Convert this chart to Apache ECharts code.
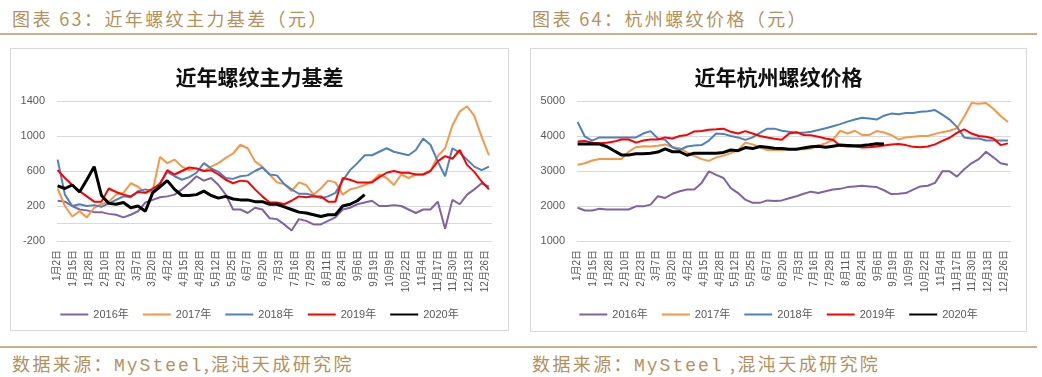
<!DOCTYPE html>
<html>
<head>
<meta charset="utf-8">
<script src="https://cdn.jsdelivr.net/npm/echarts@6/dist/echarts.min.js"></script>
<style>
body { margin: 0; background: #fff; width: 1042px; height: 377px; overflow: hidden; position: relative; font-family: "Noto Sans CJK SC"; }
.cap { position: absolute; font-size: 18px; line-height: 20px; color: #b4915c; letter-spacing: 2.4px; white-space: nowrap; }
.mono { font-family: "Liberation Mono"; letter-spacing: 2px; }
.rule { position: absolute; height: 2px; background: #cbb08a; }
.box { position: absolute; border: 1px solid #d9d9d9; box-sizing: border-box; }
</style>
</head>
<body>
<div class="cap" style="left:12px;top:8px">图表 63：近年螺纹主力基差（元）</div>
<div class="cap" style="left:532px;top:8px">图表 64：杭州螺纹价格（元）</div>
<div class="rule" style="left:0;top:33px;width:520px"></div>
<div class="rule" style="left:520px;top:33px;width:517px"></div>

<div id="basis-chart" class="box" style="left:10px;top:48px;width:499px;height:283px"></div>
<div id="price-chart" class="box" style="left:530px;top:48px;width:497px;height:284px"></div>

<div class="rule" style="left:0;top:346px;width:520px"></div>
<div class="rule" style="left:520px;top:346px;width:517px"></div>
<div class="cap" style="left:12px;top:353px">数据来源：<span class="mono">MySteel</span>,混沌天成研究院</div>
<div class="cap" style="left:532px;top:353px">数据来源：<span class="mono">MySteel</span> ,混沌天成研究院</div>

<script>
// one value every STEP trading days, starting at 1月2日
var STEP = 6;
var years = ['2016年', '2017年', '2018年', '2019年', '2020年'];
var colors = ['#7f63a4', '#f79646', '#4f81bd', '#ff0000', '#000000'];

var basisTicks = [-200, 200, 600, 1000, 1400];
var priceTicks = [1000, 2000, 3000, 4000, 5000];

// 螺纹主力基差
var basis2016 = [260, 250, 200, 160, 150, 130, 130, 110, 100, 70, 100, 140, 240, 270, 300,
    310, 330, 390, 460, 540, 490, 520, 440, 330, 160, 160, 120, 180, 160, 60,
    50, -10, -80, 50, 30, -10, -10, 30, 70, 160, 180, 220, 240, 260, 200,
    200, 210, 200, 160, 120, 160, 160, 250, -60, 270, 220, 330, 390, 460, 420];
var basis2017 = [400, 200, 80, 140, 70, 180, 220, 250, 330, 350, 460, 420, 350, 370, 760,
    690, 730, 650, 610, 630, 600, 650, 690, 750, 800, 900, 860, 710, 650, 560,
    470, 450, 370, 470, 440, 330, 400, 490, 470, 330, 390, 410, 440, 480, 560,
    520, 440, 560, 520, 560, 560, 600, 770, 860, 1120, 1280, 1340, 1230, 990, 780];
var basis2018 = [730, 330, 200, 220, 200, 210, 190, 230, 270, 310, 300, 370, 390, 370, 460,
    590, 540, 500, 530, 580, 690, 630, 590, 520, 510, 540, 550, 600, 640, 560,
    550, 450, 390, 340, 340, 320, 290, 310, 350, 490, 610, 690, 780, 780, 820,
    860, 820, 800, 780, 840, 970, 900, 710, 540, 860, 810, 730, 650, 610, 650];
var basis2019 = [610, 520, 440, 370, 310, 250, 250, 400, 360, 330, 310, 360, 350, 400, 450,
    610, 560, 600, 640, 630, 600, 610, 560, 500, 460, 490, 480, 390, 310, 240,
    240, 220, 260, 310, 300, 310, 310, 250, 250, 520, 500, 470, 470, 470, 530,
    580, 600, 580, 580, 560, 560, 600, 710, 770, 740, 840, 670, 590, 480, 390];
var basis2020 = [430, 400, 440, 360, 500, 650, 320, 230, 220, 240, 180, 200, 140, 350, 420,
    490, 390, 320, 320, 330, 370, 320, 290, 310, 280, 270, 270, 250, 250, 220,
    220, 190, 160, 130, 120, 100, 80, 100, 100, 200, 220, 260, 330];

// 杭州螺纹价格
var price2016 = [1950, 1870, 1870, 1920, 1900, 1900, 1900, 1900, 1990, 1990, 2040, 2280, 2230, 2350, 2420,
    2470, 2470, 2660, 2990, 2890, 2800, 2510, 2370, 2180, 2090, 2090, 2160, 2140, 2160, 2220,
    2280, 2350, 2410, 2370, 2420, 2470, 2490, 2540, 2560, 2580, 2560, 2540, 2450, 2340, 2350,
    2370, 2470, 2560, 2580, 2660, 2990, 2990, 2840, 3050, 3220, 3340, 3550, 3390, 3220, 3180];
var price2017 = [3180, 3220, 3300, 3340, 3340, 3340, 3340, 3550, 3680, 3710, 3700, 3720, 3760, 3680, 3650,
    3530, 3430, 3340, 3290, 3390, 3440, 3510, 3600, 3810, 3760, 3680, 3600, 3600, 3600, 3620,
    3620, 3620, 3640, 3730, 3790, 3890, 4150, 4070, 4150, 4030, 4030, 4140, 4100, 4030, 3900,
    3960, 3980, 4000, 4000, 4060, 4110, 4150, 4220, 4550, 4940, 4920, 4940, 4780, 4570, 4400];
var price2018 = [4400, 3980, 3870, 3960, 3960, 3960, 3960, 3960, 3960, 4070, 4140, 3930, 3890, 3680, 3600,
    3700, 3730, 3740, 3870, 4070, 4060, 4000, 3960, 3890, 3960, 4090, 4210, 4210, 4150, 4120,
    4090, 4090, 4120, 4170, 4220, 4280, 4340, 4410, 4470, 4520, 4500, 4470, 4580, 4640, 4620,
    4660, 4660, 4690, 4710, 4740, 4610, 4470, 4260, 3960, 3930, 3930, 3870, 3870, 3870, 3870];
var price2019 = [3840, 3860, 3810, 3790, 3810, 3840, 3900, 3900, 3810, 3870, 3900, 3900, 3960, 3930, 4000,
    4030, 4130, 4140, 4180, 4190, 4210, 4120, 4070, 4140, 4070, 4000, 3960, 3920, 3890, 4070,
    4110, 4030, 4020, 3980, 3930, 3890, 3720, 3700, 3700, 3670, 3680, 3700, 3730, 3760, 3770,
    3740, 3690, 3680, 3700, 3760, 3860, 3950, 4090, 4190, 4070, 4000, 3980, 3930, 3740, 3790];
var price2020 = [3770, 3770, 3770, 3770, 3700, 3580, 3460, 3460, 3490, 3490, 3510, 3540, 3630, 3550, 3550,
    3450, 3510, 3510, 3510, 3510, 3530, 3600, 3580, 3670, 3640, 3700, 3680, 3650, 3640, 3620,
    3620, 3660, 3690, 3710, 3680, 3710, 3740, 3730, 3720, 3730, 3750, 3780, 3770];

// trading-day labels 1月2日 ... 12月31日 (五一、国庆长假不计)
function buildDates() {
    var out = [];
    var d = new Date(2020, 0, 2);
    while (d.getFullYear() === 2020) {
        var m = d.getMonth() + 1, day = d.getDate();
        var holiday = (m === 5 && day === 1) || (m === 10 && day <= 7);
        if (!holiday) out.push(m + '月' + day + '日');
        d.setDate(d.getDate() + 1);
    }
    return out;
}
var categories = buildDates();

function toPoints(vals) {
    return vals.map(function (v, k) { return [k * STEP, v]; });
}

function makeOption(title, lists, yMin, yMax, yStep, ticks, grid) {
    var lineColors = [];
    for (var v = yMin; v <= yMax; v += yStep) {
        lineColors.push(ticks.indexOf(v) >= 0 || v === 0 ? '#d9d9d9' : 'rgba(0,0,0,0)');
    }
    var series = [];
    for (var i = 0; i < lists.length; i++) {
        series.push({
            name: years[i],
            type: 'line',
            symbol: 'none',
            data: toPoints(lists[i]),
            lineStyle: { color: colors[i], width: i === 4 ? 3 : 2 },
            itemStyle: { color: colors[i] }
        });
    }
    return {
        animation: false,
        title: {
            text: title,
            left: 'center',
            top: 13,
            textStyle: { fontFamily: 'Noto Sans CJK SC', fontSize: 21, fontWeight: 'bold', color: '#111' }
        },
        legend: {
            data: years,
            left: 'center',
            top: 255,
            icon: 'rect',
            itemWidth: 28,
            itemHeight: 2,
            itemGap: 14,
            textStyle: { fontFamily: 'Liberation Sans, Noto Sans CJK SC', fontSize: 11, color: '#595959' }
        },
        grid: grid,
        xAxis: {
            type: 'category',
            data: categories,
            boundaryGap: true,
            axisLine: { show: false },
            axisTick: { show: false },
            splitLine: { show: false },
            axisLabel: {
                interval: 12,
                rotate: 90,
                margin: 9,
                fontSize: 10,
                color: '#595959',
                fontFamily: 'Liberation Sans, Noto Sans CJK SC'
            }
        },
        yAxis: {
            type: 'value',
            min: yMin,
            max: yMax,
            interval: yStep,
            axisLine: { show: false },
            axisTick: { show: false },
            axisLabel: {
                margin: 12,
                fontSize: 11,
                color: '#595959',
                fontFamily: 'Liberation Sans',
                formatter: function (val) { return ticks.indexOf(val) >= 0 ? String(val) : ''; }
            },
            splitLine: { lineStyle: { color: lineColors, width: 1 } }
        },
        series: series
    };
}

var basisChart = echarts.init(document.getElementById('basis-chart'));
basisChart.setOption(makeOption('近年螺纹主力基差',
    [basis2016, basis2017, basis2018, basis2019, basis2020],
    -200, 1400, 200, basisTicks,
    { left: 46, right: 16, top: 52, bottom: 89 }));

var priceChart = echarts.init(document.getElementById('price-chart'));
priceChart.setOption(makeOption('近年杭州螺纹价格',
    [price2016, price2017, price2018, price2019, price2020],
    1000, 5000, 1000, priceTicks,
    { left: 46, right: 15, top: 52, bottom: 90 }));

window.addEventListener('resize', function () {
    basisChart.resize();
    priceChart.resize();
});
</script>
</body>
</html>
